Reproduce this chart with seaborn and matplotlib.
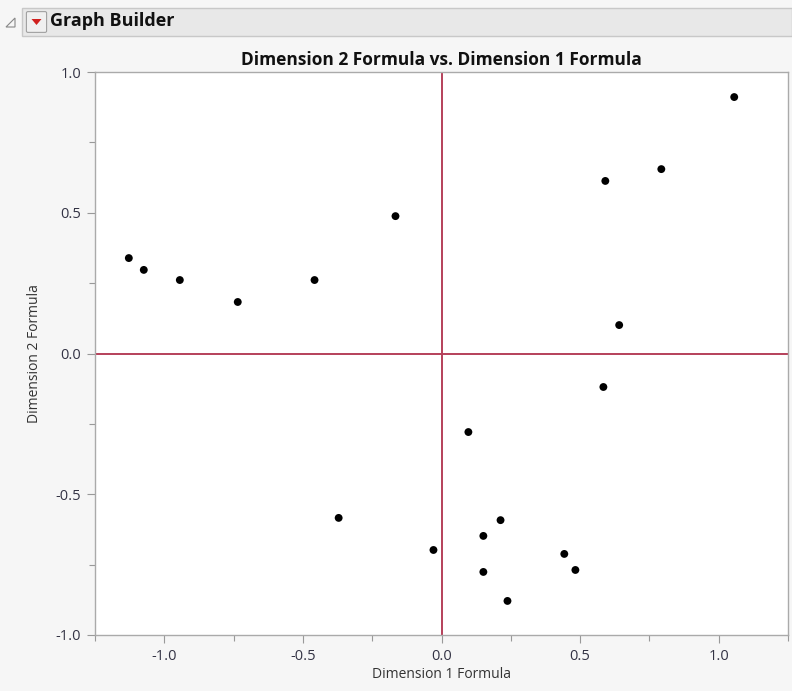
import matplotlib
matplotlib.use("Agg")
import matplotlib.pyplot as plt
from matplotlib.patches import Rectangle, FancyBboxPatch, Polygon
import seaborn as sns
import pandas as pd
import numpy as np

dim1 = [-1.128, -1.074, -0.944, -0.735, -0.458, -0.166, -0.371, -0.029, 0.097, 0.213,
        0.151, 0.151, 0.238, 0.443, 0.483, 0.584, 0.641, 0.591, 0.793, 1.056]
dim2 = [0.339, 0.297, 0.261, 0.183, 0.261, 0.488, -0.584, -0.698, -0.279, -0.592,
        -0.648, -0.776, -0.879, -0.712, -0.769, -0.119, 0.101, 0.613, 0.655, 0.911]
x_ticks = [-1.0, -0.5, 0.0, 0.5, 1.0]
y_ticks = [-1.0, -0.5, 0.0, 0.5, 1.0]

df = pd.DataFrame({"Dimension 1 Formula": dim1, "Dimension 2 Formula": dim2})

sns.set_style("white")
plt.rcParams["font.family"] = ["Open Sans", "DejaVu Sans"]

fig = plt.figure(figsize=(7.92, 6.91), dpi=100, facecolor="#f6f6f6")
W, H = 792, 691

# Header bar
fig.patches.append(Rectangle((22 / W, 1 - 36 / H), (W - 22) / W, 28 / H, transform=fig.transFigure,
                             facecolor="#e8e8e8", edgecolor="#c8c8c8", linewidth=1))
fig.patches.append(FancyBboxPatch((28 / W, 1 - 31 / H), 17 / W, 18 / H, transform=fig.transFigure,
                                  boxstyle="round,pad=0.002", facecolor="#f0f0f0", edgecolor="#a0a0a0", linewidth=0.8))
fig.patches.append(Polygon([(31.5 / W, 1 - 19 / H), (41.5 / W, 1 - 19 / H), (36.5 / W, 1 - 25 / H)],
                           closed=True, transform=fig.transFigure, facecolor="#d0201e", edgecolor="none"))
fig.patches.append(Polygon([(6 / W, 1 - 27 / H), (15 / W, 1 - 27 / H), (15 / W, 1 - 18 / H)],
                           closed=True, transform=fig.transFigure, facecolor="none", edgecolor="#888888", linewidth=0.8))
fig.text(50 / W, 1 - 21 / H, "Graph Builder", fontsize=13, fontweight="bold", va="center", ha="left", color="#111111")

ax = fig.add_axes([95 / W, 1 - 635 / H, (788 - 95) / W, (635 - 72) / H])
ax.set_facecolor("white")

ax.axvline(0, color="#b5405a", linewidth=1.4, zorder=1)
ax.axhline(0, color="#b5405a", linewidth=1.4, zorder=1)

sns.scatterplot(data=df, x="Dimension 1 Formula", y="Dimension 2 Formula", ax=ax,
                color="black", s=32, edgecolor="none", zorder=3)

ax.set_xlim(-1.25, 1.25)
ax.set_ylim(-1.0, 1.0)
ax.set_xticks(x_ticks)
ax.set_yticks(y_ticks)
ax.set_xticklabels([f"{v:.1f}" for v in x_ticks])
ax.set_yticklabels([f"{v:.1f}" for v in y_ticks])
ax.set_xticks([-1.25, -0.75, -0.25, 0.25, 0.75, 1.25], minor=True)
ax.set_yticks([-0.75, -0.25, 0.25, 0.75], minor=True)
ax.tick_params(axis="both", which="major", length=6, width=0.8, color="#999999",
               labelsize=10.5, labelcolor="#333344", pad=4)
ax.tick_params(axis="both", which="minor", length=4, width=0.8, color="#999999")
ax.tick_params(axis="x", which="both", bottom=True)
ax.tick_params(axis="y", which="both", left=True)

for s in ax.spines.values():
    s.set_color("#aaaaaa")
    s.set_linewidth(1)

ax.set_xlabel("Dimension 1 Formula", fontsize=10, color="#333333", labelpad=2)
ax.set_ylabel("Dimension 2 Formula", fontsize=10, color="#333333", labelpad=10)
ax.set_title("Dimension 2 Formula vs. Dimension 1 Formula", fontsize=12.5, fontweight="bold",
             color="#111111", pad=5)

fig.savefig("out.png", dpi=100, facecolor=fig.get_facecolor())
